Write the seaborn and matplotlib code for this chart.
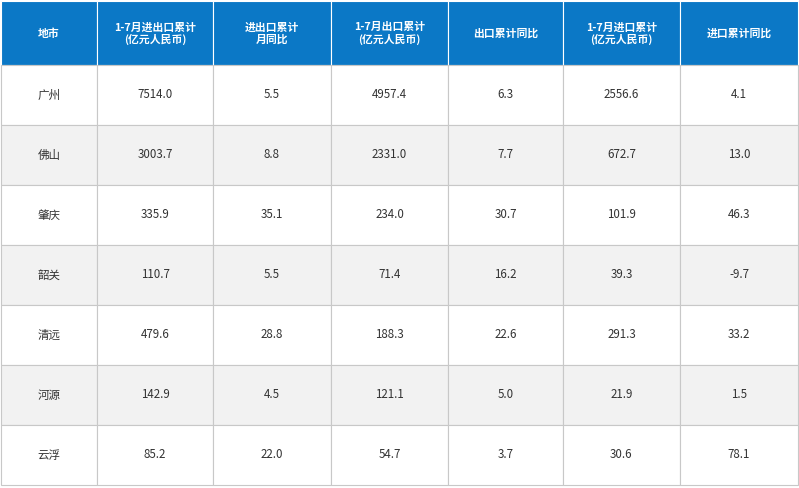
import matplotlib
matplotlib.use('Agg')
import matplotlib.pyplot as plt
import matplotlib.patches as mpatches
import seaborn as sns

sns.set_theme(style="white")
plt.rcParams['font.family'] = ['Noto Sans CJK SC', 'DejaVu Sans']

headers = ["地市", "1-7月进出口累计\n(亿元人民币)", "进出口累计\n月同比", "1-7月出口累计\n(亿元人民币)",
           "出口累计同比", "1-7月进口累计\n(亿元人民币)", "进口累计同比"]
cities = ["广州", "佛山", "肇庆", "韶关", "清远", "河源", "云浮"]
trade_total = ["7514.0", "3003.7", "335.9", "110.7", "479.6", "142.9", "85.2"]
trade_yoy = ["5.5", "8.8", "35.1", "5.5", "28.8", "4.5", "22.0"]
export_total = ["4957.4", "2331.0", "234.0", "71.4", "188.3", "121.1", "54.7"]
export_yoy = ["6.3", "7.7", "30.7", "16.2", "22.6", "5.0", "3.7"]
import_total = ["2556.6", "672.7", "101.9", "39.3", "291.3", "21.9", "30.6"]
import_yoy = ["4.1", "13.0", "46.3", "-9.7", "33.2", "1.5", "78.1"]

columns = [cities, trade_total, trade_yoy, export_total, export_yoy, import_total, import_yoy]
col_edges = [1, 97, 213, 331, 448, 563, 680, 798]
header_h = 65
row_h = 60

fig = plt.figure(figsize=(7.99, 4.88), dpi=100)
ax = fig.add_axes([0, 0, 1, 1])
ax.set_xlim(0, 799)
ax.set_ylim(488, 0)
ax.axis('off')

header_color = "#0b78c6"
grid_color = "#c8c8c8"

# header
for j, h in enumerate(headers):
    x0, x1 = col_edges[j], col_edges[j + 1]
    ax.add_patch(mpatches.Rectangle((x0, 1), x1 - x0, header_h - 1, facecolor=header_color,
                                    edgecolor="white", linewidth=0.8))
    ax.text((x0 + x1) / 2, header_h / 2 + 1, h, color="white", fontsize=7.8, fontweight='bold',
            ha='center', va='center', linespacing=1.15)

# body
for i in range(len(cities)):
    y0 = header_h + i * row_h
    bg = "white" if i % 2 == 0 else "#f2f2f2"
    for j, col in enumerate(columns):
        x0, x1 = col_edges[j], col_edges[j + 1]
        ax.add_patch(mpatches.Rectangle((x0, y0), x1 - x0, row_h, facecolor=bg,
                                        edgecolor=grid_color, linewidth=0.8))
        ax.text((x0 + x1) / 2, y0 + row_h / 2, col[i], color="#333333", fontsize=8.3,
                ha='center', va='center')

fig.savefig("out.png", dpi=100)
